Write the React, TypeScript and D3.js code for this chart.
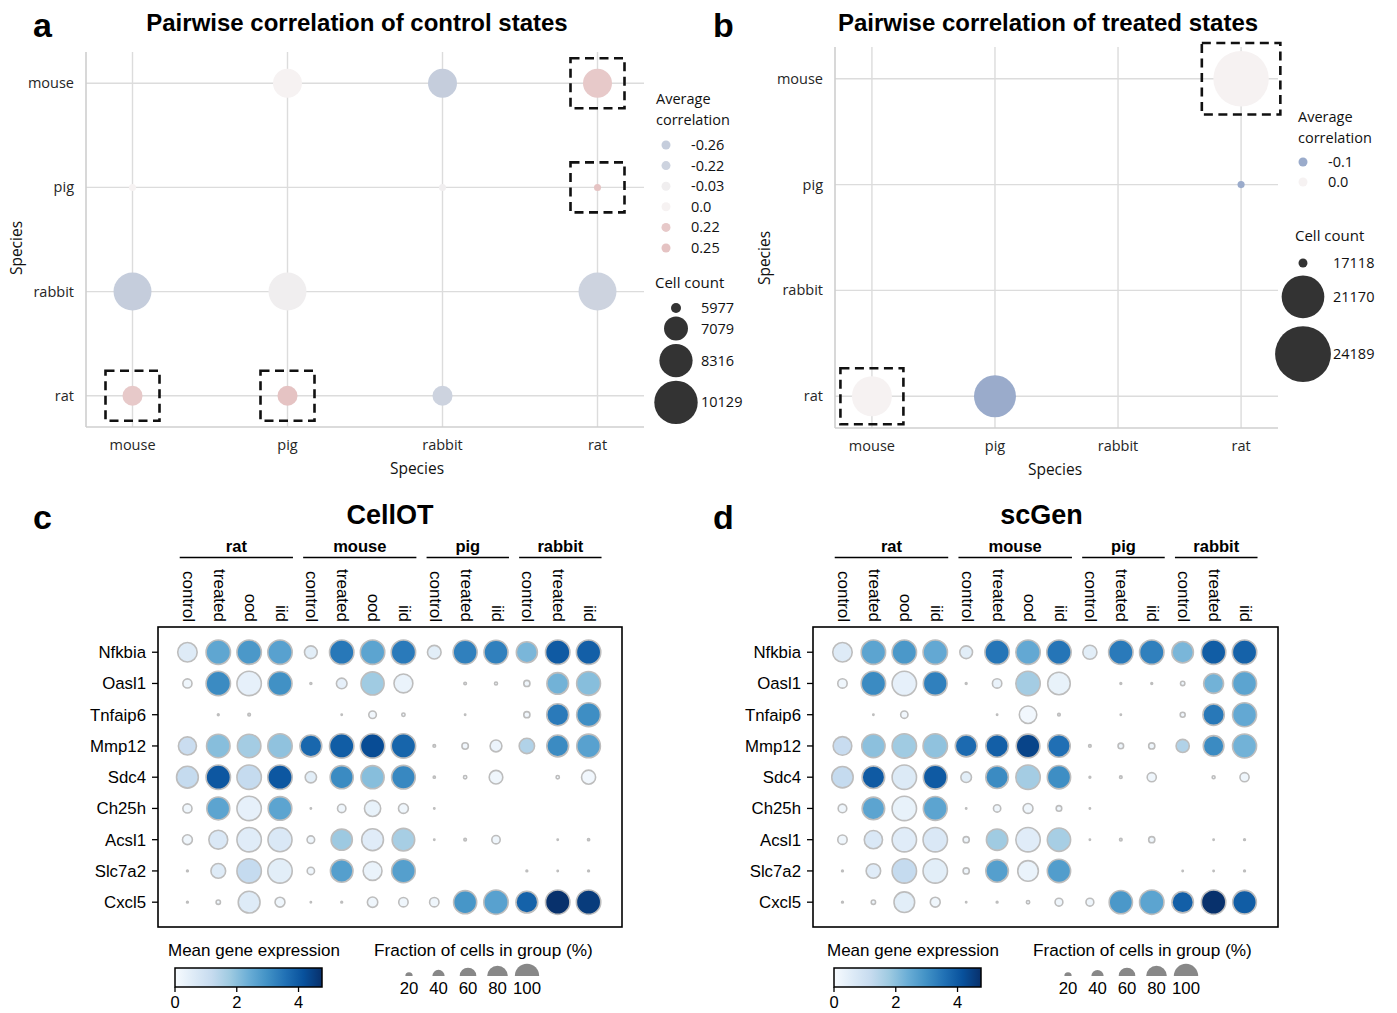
import React from "react";
import * as d3 from "d3";

const SANS = "'Liberation Sans', Arial, sans-serif";
const OPEN = "'Open Sans', 'Noto Sans', sans-serif";

// ---- panels a / b : pairwise correlation scatter ----
const species = ["mouse", "pig", "rabbit", "rat"];

const controlX = ["pig", "rabbit", "rat", "mouse", "rabbit", "rat", "mouse", "pig", "rat", "mouse", "pig", "rabbit"];
const controlY = ["mouse", "mouse", "mouse", "pig", "pig", "pig", "rabbit", "rabbit", "rabbit", "rat", "rat", "rat"];
const controlCorr = [0.0, -0.26, 0.22, 0.0, -0.03, 0.25, -0.26, -0.03, -0.22, 0.22, 0.25, -0.22];
const controlCount = [7700, 7700, 7700, 5860, 5860, 5860, 9100, 9100, 9100, 6680, 6680, 6680];
const controlHighlight = [["rat", "mouse"], ["rat", "pig"], ["mouse", "rat"], ["pig", "rat"]];
const controlCorrLegend = [-0.26, -0.22, -0.03, 0.0, 0.22, 0.25];
const controlCountLegend = [5977, 7079, 8316, 10129];

const treatedX = ["rat", "rat", "mouse", "pig"];
const treatedY = ["mouse", "pig", "rat", "rat"];
const treatedCorr = [0.0, -0.1, 0.0, -0.1];
const treatedCount = [24100, 17050, 20650, 21030];
const treatedHighlight = [["rat", "mouse"], ["mouse", "rat"]];
const treatedCorrLegend = [-0.1, 0.0];
const treatedCountLegend = [17118, 21170, 24189];

// ---- panels c / d : dot plots ----
const genes = ["Nfkbia", "Oasl1", "Tnfaip6", "Mmp12", "Sdc4", "Ch25h", "Acsl1", "Slc7a2", "Cxcl5"];
const groupNames = ["rat", "mouse", "pig", "rabbit"];
const groupSizes = [4, 4, 3, 3];
const conditions = ["control", "treated", "ood", "iid", "control", "treated", "ood", "iid", "control", "treated", "iid", "control", "treated", "iid"];
const cbTicks = [0, 2, 4];
const fracLegend = [20, 40, 60, 80, 100];

const cellotFraction = [
  [0.74, 1.0, 1.0, 1.0, 0.42, 1.0, 1.0, 1.0, 0.46, 0.98, 0.98, 0.82, 1.0, 1.0],
  [0.27, 1.0, 1.0, 0.98, 0.035, 0.33, 0.93, 0.71, 0, 0.05, 0.06, 0.16, 0.85, 0.97],
  [0, 0.03, 0.05, 0, 0, 0.02, 0.21, 0.07, 0, 0.02, 0, 0.16, 0.87, 0.97],
  [0.67, 0.95, 0.95, 1.0, 0.86, 1.0, 1.0, 1.0, 0.05, 0.17, 0.38, 0.54, 0.86, 0.96],
  [0.86, 1.0, 1.0, 1.0, 0.36, 0.93, 0.93, 0.96, 0.04, 0.07, 0.46, 0, 0.07, 0.48],
  [0.27, 0.92, 1.0, 0.96, 0.02, 0.24, 0.58, 0.3, 0.02, 0, 0, 0, 0, 0],
  [0.3, 0.71, 1.0, 0.98, 0.21, 0.83, 0.86, 0.9, 0.02, 0.05, 0.24, 0, 0.02, 0.04],
  [0.03, 0.51, 1.0, 1.0, 0.2, 0.9, 0.71, 0.96, 0, 0, 0, 0.03, 0.02, 0.03],
  [0.03, 0.1, 0.86, 0.3, 0.02, 0.03, 0.32, 0.28, 0.28, 0.93, 1.0, 0.86, 1.0, 1.0],
];
const cellotMean = [
  [0.6, 2.55, 2.85, 2.65, 0.5, 3.45, 2.6, 3.4, 0.5, 3.3, 3.3, 2.2, 4.0, 3.9],
  [0.2, 3.1, 0.4, 3.0, 0.1, 0.4, 1.75, 0.3, 0, 0.1, 0.1, 0.2, 2.3, 2.05],
  [0, 0.1, 0.1, 0, 0, 0.1, 0.15, 0.1, 0, 0.1, 0, 0.15, 3.4, 3.05],
  [1.1, 2.05, 1.7, 1.95, 3.75, 3.95, 4.25, 3.8, 0.1, 0.15, 0.25, 1.5, 3.1, 2.65],
  [1.2, 4.05, 1.2, 4.05, 0.5, 3.1, 2.05, 3.15, 0.1, 0.1, 0.2, 0, 0.1, 0.15],
  [0.2, 2.6, 0.4, 2.6, 0.1, 0.2, 0.35, 0.2, 0.1, 0, 0, 0, 0, 0],
  [0.2, 0.7, 0.55, 0.7, 0.2, 1.8, 0.55, 1.65, 0.1, 0.1, 0.2, 0, 0.1, 0.1],
  [0.1, 0.6, 1.2, 0.5, 0.2, 2.7, 0.3, 2.7, 0, 0, 0, 0.1, 0.1, 0.1],
  [0.1, 0.2, 0.6, 0.2, 0.1, 0.1, 0.2, 0.2, 0.2, 2.9, 2.65, 3.85, 4.75, 4.55],
];

const scgenFraction = [
  [0.74, 1.0, 1.0, 1.0, 0.42, 1.0, 1.0, 1.0, 0.48, 1.0, 1.0, 0.84, 1.0, 1.0],
  [0.28, 1.0, 1.0, 0.97, 0.03, 0.28, 1.0, 0.9, 0, 0.03, 0.03, 0.1, 0.76, 0.98],
  [0, 0.02, 0.2, 0, 0, 0.02, 0.64, 0.05, 0, 0.02, 0, 0.12, 0.84, 0.98],
  [0.7, 0.94, 1.0, 1.0, 0.86, 0.9, 0.96, 0.9, 0.05, 0.14, 0.16, 0.44, 0.8, 0.98],
  [0.84, 0.9, 1.0, 0.97, 0.33, 0.9, 1.0, 0.94, 0.03, 0.05, 0.27, 0, 0.06, 0.27],
  [0.25, 0.9, 1.0, 0.97, 0.02, 0.2, 0.3, 0.14, 0.02, 0, 0, 0, 0, 0],
  [0.28, 0.68, 1.0, 1.0, 0.16, 0.84, 1.0, 0.94, 0.02, 0.05, 0.16, 0, 0.02, 0.03],
  [0.03, 0.5, 1.0, 1.0, 0.16, 0.9, 0.8, 0.94, 0, 0, 0, 0.02, 0.02, 0.03],
  [0.03, 0.1, 0.8, 0.3, 0.02, 0.03, 0.07, 0.22, 0.22, 0.94, 1.0, 0.84, 1.0, 0.96],
];
const scgenMean = [
  [0.6, 2.6, 2.85, 2.5, 0.5, 3.5, 2.5, 3.5, 0.5, 3.4, 3.3, 2.2, 3.95, 3.85],
  [0.2, 3.1, 0.4, 3.3, 0.1, 0.3, 1.7, 0.35, 0, 0.1, 0.1, 0.2, 2.3, 2.6],
  [0, 0.1, 0.15, 0, 0, 0.1, 0.15, 0.1, 0, 0.1, 0, 0.15, 3.45, 2.5],
  [1.15, 2.0, 1.75, 1.95, 3.7, 3.9, 4.4, 3.6, 0.1, 0.2, 0.2, 1.5, 3.1, 2.3],
  [1.2, 4.0, 0.65, 4.0, 0.5, 3.1, 1.7, 3.05, 0.1, 0.1, 0.2, 0, 0.1, 0.2],
  [0.2, 2.6, 0.35, 2.6, 0.1, 0.2, 0.2, 0.2, 0.1, 0, 0, 0, 0, 0],
  [0.2, 0.7, 0.55, 0.7, 0.2, 1.75, 0.55, 1.65, 0.1, 0.1, 0.2, 0, 0.1, 0.1],
  [0.1, 0.55, 1.2, 0.5, 0.2, 2.7, 0.3, 2.75, 0, 0, 0, 0.1, 0.1, 0.1],
  [0.1, 0.2, 0.5, 0.2, 0.1, 0.1, 0.2, 0.2, 0.2, 2.85, 2.6, 3.9, 4.75, 3.95],
];

// matplotlib "Blues"
const blueStops = ["#f7fbff", "#deebf7", "#c6dbef", "#9ecae1", "#6baed6", "#4292c6", "#2171b5", "#08519c", "#08306b"];
const vmax = 4.76;

const corrLabel = (v: number) => (v === 0 ? "0.0" : `${v}`);

function ScatterPanel(p: any) {
  const x = d3.scalePoint().domain(species).range([p.left, p.right]).padding(0.3);
  const y = d3.scalePoint().domain(species).range([p.top, p.bottom]).padding(0.3);
  const color = d3.scaleLinear<string>().domain(p.colorDomain).range(p.colorRange);
  const area = d3.scaleLinear().domain(p.countDomain).range(p.areaRange);
  const rad = (c: number) => Math.sqrt(Math.max(area(c), 1));
  const L = p.legend;

  const countYs: number[] = [];
  p.countLegend.forEach((c: number, i: number) => {
    if (i === 0) countYs.push(L.countY0);
    else countYs.push(countYs[i - 1] + rad(p.countLegend[i - 1]) + rad(c) + L.countGap);
  });

  return (
    <g>
      <text x={p.letterX} y={37} fontFamily={SANS} fontWeight="bold" fontSize={34}>{p.letter}</text>
      <text x={p.titleX} y={31} textAnchor="middle" fontFamily={SANS} fontWeight="bold" fontSize={24}>{p.title}</text>

      {species.map((s) => (
        <line key={"gx" + s} x1={x(s)} x2={x(s)} y1={p.top} y2={p.bottom} stroke="#dcdcdc" strokeWidth={1.4} />
      ))}
      {species.map((s) => (
        <line key={"gy" + s} x1={p.left} x2={p.right} y1={y(s)} y2={y(s)} stroke="#dcdcdc" strokeWidth={1.4} />
      ))}
      <line x1={p.left} x2={p.left} y1={p.top} y2={p.bottom} stroke="#cfcfcf" strokeWidth={1.6} />
      <line x1={p.left} x2={p.right} y1={p.bottom} y2={p.bottom} stroke="#cfcfcf" strokeWidth={1.6} />

      {species.map((s) => (
        <text key={"tx" + s} x={x(s)} y={p.bottom + 23} textAnchor="middle" fontFamily={OPEN} fontSize={14.5} fill="#262626">{s}</text>
      ))}
      {species.map((s) => (
        <text key={"ty" + s} x={p.left - 12} y={y(s)} dy="0.35em" textAnchor="end" fontFamily={OPEN} fontSize={14.5} fill="#262626">{s}</text>
      ))}
      <text x={p.xTitleX} y={p.bottom + 47} textAnchor="middle" fontFamily={OPEN} fontSize={15.5} fill="#111">Species</text>
      <text transform={`translate(${p.yTitleX},${p.yTitleY}) rotate(-90)`} dy="0.35em" textAnchor="middle" fontFamily={OPEN} fontSize={15.5} fill="#111">Species</text>

      {p.xs.map((xv: string, i: number) => (
        <circle key={"pt" + i} cx={x(xv)} cy={y(p.ys[i])} r={rad(p.counts[i])} fill={color(p.corr[i])} />
      ))}

      {p.highlight.map(([hx, hy]: string[], i: number) => {
        const k = p.xs.findIndex((v: string, j: number) => v === hx && p.ys[j] === hy);
        const r = rad(p.counts[k]);
        const hw = p.boxFixed ? p.boxFixed[0] : r + p.boxPad[0];
        const hh = p.boxFixed ? p.boxFixed[1] : r + p.boxPad[1];
        return (
          <rect key={"hb" + i} x={(x(hx) as number) - hw} y={(y(hy) as number) - hh} width={hw * 2} height={hh * 2}
            fill="none" stroke="#111" strokeWidth={2.6} strokeDasharray="9 5.5" />
        );
      })}

      <text x={L.titleX} y={L.titleY} fontFamily={OPEN} fontSize={14.5} fill="#111">Average</text>
      <text x={L.titleX} y={L.titleY + 21} fontFamily={OPEN} fontSize={14.5} fill="#111">correlation</text>
      {p.corrLegend.map((v: number, i: number) => (
        <g key={"cl" + i}>
          <circle cx={L.markerX} cy={L.corrY0 + i * L.corrStep} r={4.5} fill={color(v)} />
          <text x={L.textX} y={L.corrY0 + i * L.corrStep} dy="0.35em" fontFamily={OPEN} fontSize={14.5} fill="#111">{corrLabel(v)}</text>
        </g>
      ))}
      <text x={L.countTitleX} y={L.countTitleY} fontFamily={OPEN} fontSize={15} fill="#111">Cell count</text>
      {p.countLegend.map((c: number, i: number) => (
        <g key={"sl" + i}>
          <circle cx={L.circleX} cy={countYs[i]} r={rad(c)} fill="#333333" />
          <text x={L.countTextX} y={countYs[i]} dy="0.35em" fontFamily={OPEN} fontSize={14.5} fill="#111">{c}</text>
        </g>
      ))}
    </g>
  );
}

function DotPlot(p: any) {
  const top = 627;
  const bottom = 927;
  const x = d3.scaleBand<number>().domain(d3.range(conditions.length)).range([p.left + 14, p.right - 18]);
  const y = d3.scaleBand<string>().domain(genes).range([636.6, 917.8]);
  const cx = (i: number) => (x(i) as number) + x.bandwidth() / 2;
  const cy = (g: string) => (y(g) as number) + y.bandwidth() / 2;
  const size = (f: number) => 12.2 * Math.pow(f, 0.75);
  const color = d3.scaleLinear<string>().domain(blueStops.map((_, i) => (i / 8) * vmax)).range(blueStops).clamp(true);
  const cbScale = d3.scaleLinear().domain([0, vmax]).range([p.cbX, p.cbX + 147]);
  const starts = groupSizes.map((_, i) => d3.sum(groupSizes.slice(0, i)));
  const step = x.step();
  const gid = "cb-" + p.id;

  return (
    <g fontFamily={SANS}>
      <defs>
        <linearGradient id={gid} x1="0" x2="1" y1="0" y2="0">
          {blueStops.map((c, i) => (
            <stop key={i} offset={`${(i / 8) * 100}%`} stopColor={c} />
          ))}
        </linearGradient>
      </defs>
      <text x={p.letterX} y={529} fontWeight="bold" fontSize={34}>{p.letter}</text>
      <text x={(p.left + p.right) / 2 - p.titleShift} y={524} textAnchor="middle" fontWeight="bold" fontSize={27}>{p.title}</text>

      {groupNames.map((g, i) => {
        const x1 = cx(starts[i]) - 0.25 * step;
        const x2 = cx(starts[i] + groupSizes[i] - 1) + 0.42 * step;
        return (
          <g key={g}>
            <text x={(x1 + x2) / 2} y={552} textAnchor="middle" fontWeight="bold" fontSize={16.5}>{g}</text>
            <line x1={x1} x2={x2} y1={557.5} y2={557.5} stroke="#000" strokeWidth={1.5} />
          </g>
        );
      })}
      {conditions.map((c, i) => (
        <text key={"c" + i} transform={`translate(${cx(i) + 1.5},622) rotate(90)`} dy="0.35em" textAnchor="end" fontSize={17}>{c}</text>
      ))}

      <rect x={p.left} y={top} width={p.right - p.left} height={bottom - top} fill="none" stroke="#000" strokeWidth={1.6} />
      {genes.map((g) => (
        <g key={g}>
          <line x1={p.left - 6} x2={p.left} y1={cy(g)} y2={cy(g)} stroke="#000" strokeWidth={1.3} />
          <text x={p.left - 12} y={cy(g)} dy="0.35em" textAnchor="end" fontSize={16.8}>{g}</text>
        </g>
      ))}

      {genes.map((g, r) =>
        p.fraction[r].map((f: number, i: number) =>
          f > 0 ? (
            <circle key={g + i} cx={cx(i)} cy={cy(g)} r={size(f)} fill={color(p.mean[r][i])} stroke="#bdbdbd" strokeWidth={1.6} />
          ) : null
        )
      )}

      {/* colour bar */}
      <text x={p.cbX - 7} y={956} fontSize={17}>Mean gene expression</text>
      <rect x={p.cbX} y={968} width={147} height={19} fill={`url(#${gid})`} stroke="#000" strokeWidth={1.5} />
      {cbTicks.map((t) => (
        <g key={"t" + t}>
          <line x1={cbScale(t)} x2={cbScale(t)} y1={987} y2={992} stroke="#000" strokeWidth={1.3} />
          <text x={cbScale(t)} y={1008} textAnchor="middle" fontSize={16.5}>{t}</text>
        </g>
      ))}

      {/* fraction legend */}
      <text x={p.fracX - 35} y={956} fontSize={17.2}>Fraction of cells in group (%)</text>
      {fracLegend.map((v, i) => {
        const r = size(v / 100);
        const fx = p.fracX + i * 29.5;
        return (
          <g key={"f" + v}>
            <path d={`M${fx - r},976 A${r},${r} 0 0 1 ${fx + r},976 Z`} fill="#888888" />
            <text x={fx} y={994} textAnchor="middle" fontSize={16.8}>{v}</text>
          </g>
        );
      })}
    </g>
  );
}

export default function App() {
  return (
    <div style={{ position: "absolute", left: 0, top: 0 }}>
      <svg width={1397} height={1013} style={{ display: "block", background: "#fff" }}>
        <ScatterPanel
          letter="a" letterX={33} title="Pairwise correlation of control states" titleX={357}
          left={86} right={644} top={52} bottom={427} xTitleX={417} yTitleX={17} yTitleY={248}
          colorDomain={[-0.26, 0, 0.25]} colorRange={["#c5cddc", "#f6f2f2", "#e5c3c3"]}
          countDomain={[5977, 10129]} areaRange={[25, 471]}
          xs={controlX} ys={controlY} corr={controlCorr} counts={controlCount}
          highlight={controlHighlight} boxFixed={[27, 25]}
          corrLegend={controlCorrLegend} countLegend={controlCountLegend}
          legend={{ titleX: 656, titleY: 104, corrY0: 145, corrStep: 20.6, markerX: 666, textX: 691,
            countTitleX: 655, countTitleY: 288, countY0: 308, countGap: 3.5, circleX: 676, countTextX: 701 }}
        />
        <ScatterPanel
          letter="b" letterX={713} title="Pairwise correlation of treated states" titleX={1048}
          left={835} right={1278} top={47} bottom={428} xTitleX={1055} yTitleX={765} yTitleY={258}
          colorDomain={[-0.1, 0]} colorRange={["#9aabcb", "#f6f2f2"]}
          countDomain={[17118, 24189]} areaRange={[20, 780]}
          xs={treatedX} ys={treatedY} corr={treatedCorr} counts={treatedCount}
          highlight={treatedHighlight} boxPad={[11.5, 8]}
          corrLegend={treatedCorrLegend} countLegend={treatedCountLegend}
          legend={{ titleX: 1298, titleY: 122, corrY0: 162, corrStep: 20, markerX: 1303, textX: 1328,
            countTitleX: 1295, countTitleY: 241, countY0: 263, countGap: 8, circleX: 1303, countTextX: 1333 }}
        />
        <DotPlot id="c" letter="c" letterX={33} title="CellOT" left={158} right={622} titleShift={0}
          fraction={cellotFraction} mean={cellotMean} cbX={175} fracX={409} />
        <DotPlot id="d" letter="d" letterX={713} title="scGen" left={813} right={1278} titleShift={4}
          fraction={scgenFraction} mean={scgenMean} cbX={834} fracX={1068} />
      </svg>
    </div>
  );
}
